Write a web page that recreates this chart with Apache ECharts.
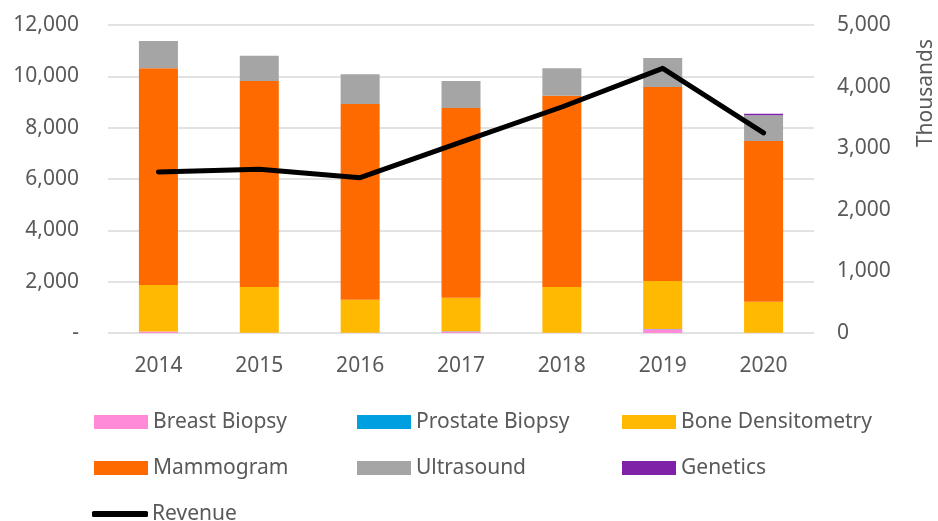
<!DOCTYPE html>
<html>
<head>
<meta charset="utf-8">
<script src="https://cdn.jsdelivr.net/npm/echarts@6/dist/echarts.min.js"></script>
<style>
html,body{margin:0;padding:0;background:#fff;}
#c{width:938px;height:521px;}
</style>
</head>
<body>
<div id="c"></div>
<script>
const categories = ['2014','2015','2016','2017','2018','2019','2020'];
const breastBiopsy = [55, 5, 5, 60, 5, 150, 5];
const prostateBiopsy = [5, 5, 5, 5, 5, 5, 5];
const boneDensitometry = [1810, 1782, 1290, 1312, 1782, 1871, 1210];
const mammogram = [8442, 8025, 7621, 7388, 7453, 7557, 6260];
const ultrasound = [1063, 986, 1157, 1052, 1067, 1130, 1001];
const genetics = [0, 0, 0, 0, 0, 0, 60];
const revenue = [2614, 2657, 2521, 3100, 3669, 4297, 3250];
const leftTicks = { min: 0, max: 12000, interval: 2000 };
const rightTicks = { min: 0, max: 5000, interval: 1000 };

const FONT = 'Noto Sans';
const TXT = '#595959';
const colors = {
  'Breast Biopsy': '#FF8AD8',
  'Prostate Biopsy': '#00A0E0',
  'Bone Densitometry': '#FFB900',
  'Mammogram': '#FF6A00',
  'Ultrasound': '#A5A5A5',
  'Genetics': '#7F22A8',
  'Revenue': '#000000'
};

function fmt(v){ return v.toLocaleString('en-US'); }

const barSeries = [
  ['Breast Biopsy', breastBiopsy],
  ['Prostate Biopsy', prostateBiopsy],
  ['Bone Densitometry', boneDensitometry],
  ['Mammogram', mammogram],
  ['Ultrasound', ultrasound],
  ['Genetics', genetics]
].map(([name, data]) => ({
  name, type: 'bar', stack: 'total', data, barWidth: 39,
  itemStyle: { color: colors[name] }, emphasis: { disabled: true }
}));

const legendPos = [
  ['Breast Biopsy', 94, 410],
  ['Prostate Biopsy', 357, 410],
  ['Bone Densitometry', 622, 410],
  ['Mammogram', 94, 456],
  ['Ultrasound', 357, 456],
  ['Genetics', 622, 456],
  ['Revenue', 92, 502]
];
const legends = legendPos.map(([name, x, y]) => {
  const isLine = name === 'Revenue';
  return {
    data: [isLine ? { name, icon: 'roundRect' } : { name, icon: 'rect' }],
    left: x, top: y, padding: 0,
    itemWidth: isLine ? 56 : 54,
    itemHeight: isLine ? 6 : 14,
    selectedMode: false,
    textStyle: { fontFamily: FONT, fontSize: 21, color: TXT, lineHeight: 24, padding: isLine ? [0,0,0,-1] : 0 }
  };
});

const chart = echarts.init(document.getElementById('c'));
chart.setOption({
  animation: false,
  backgroundColor: '#fff',
  grid: { left: 108, right: 124, top: 25, bottom: 188, containLabel: false },
  legend: legends,
  xAxis: {
    type: 'category', data: categories,
    axisLine: { show: false }, axisTick: { show: false },
    axisLabel: { fontFamily: FONT, fontSize: 21, color: TXT, margin: 23 }
  },
  yAxis: [
    {
      type: 'value', min: leftTicks.min, max: leftTicks.max, interval: leftTicks.interval,
      axisLine: { show: false }, axisTick: { show: false },
      splitLine: { lineStyle: { color: '#D9D9D9', width: 1.5 } },
      axisLabel: { fontFamily: FONT, fontSize: 21, color: TXT, margin: 29,
        formatter: v => v === 0 ? '-' : fmt(v) }
    },
    {
      type: 'value', position: 'right', min: rightTicks.min, max: rightTicks.max, interval: rightTicks.interval,
      axisLine: { show: false }, axisTick: { show: false }, splitLine: { show: false },
      axisLabel: { fontFamily: FONT, fontSize: 21, color: TXT, margin: 23, formatter: v => fmt(v) }
    }
  ],
  graphic: [{
    type: 'text', x: 926, y: 93, rotation: Math.PI / 2,
    style: { text: 'Thousands', fontFamily: FONT, fontSize: 21, fill: TXT, align: 'center', verticalAlign: 'middle' }
  }],
  series: barSeries.concat([{
    name: 'Revenue', type: 'line', yAxisIndex: 1, data: revenue,
    symbol: 'none', showSymbol: false, z: 10,
    lineStyle: { color: '#000', width: 5, join: 'round', cap: 'round' },
    itemStyle: { color: '#000' }, emphasis: { disabled: true }
  }])
});
</script>
</body>
</html>
